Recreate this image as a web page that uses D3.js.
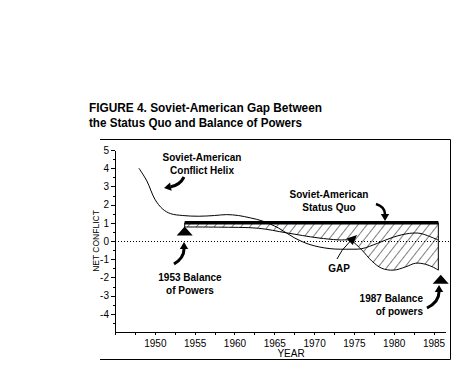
<!DOCTYPE html>
<html>
<head>
<meta charset="utf-8">
<script src="https://cdn.jsdelivr.net/npm/d3@7"></script>
<style>
  body { margin: 0; background: #fff; }
  svg text { font-family: "Liberation Sans", Arial, sans-serif; fill: #000; }
  .ann { font-weight: bold; font-size: 10px; }
  .tick text { font-size: 10px; }
</style>
</head>
<body>
<svg id="chart" width="464" height="374"></svg>
<script>
// data
const helixYears  = [1948, 1949, 1950, 1951, 1952, 1953.5, 1955.5, 1957.5, 1959, 1960.5, 1962, 1963.5, 1965.5, 1967.5, 1969.5, 1972, 1974.5, 1976, 1978, 1980, 1982, 1983.3, 1984.5, 1985.6];
const helixValues = [4.0, 3.3, 2.3, 1.75, 1.5, 1.4, 1.36, 1.4, 1.45, 1.4, 1.27, 1.1, 0.72, 0.18, -0.2, -0.42, -0.45, -0.42, -0.12, 0.22, 0.42, 0.42, 0.25, 0.05];

const bopYears  = [1953.75, 1958, 1963, 1966.5, 1970.5, 1973, 1974.6, 1976, 1977.25, 1978.5, 1980, 1981.5, 1982.75, 1984, 1985, 1985.6];
const bopValues = [0.77, 0.76, 0.7, 0.45, 0.17, 0.06, 0.02, -0.5, -1.1, -1.5, -1.6, -1.42, -1.22, -1.28, -1.45, -1.6];

const statusQuoYears = [1953.75, 1985.6];
const statusQuoValue = 1;

const markerYears  = [1953.75, 1985.9];
const markerValues = [0.55, -2.1];

const xMajor = [1950, 1955, 1960, 1965, 1970, 1975, 1980, 1985];
const xMinor = [1945, 1947.5, 1952.5, 1957.5, 1962.5, 1967.5, 1972.5, 1977.5, 1982.5];
const yMajor = [-4, -3, -2, -1, 0, 1, 2, 3, 4, 5];
const yMinor = [-4.5, -3.5, -2.5, -1.5, -0.5, 0.5, 1.5, 2.5, 3.5, 4.5];

const svg = d3.select('#chart');

const x = d3.scaleLinear().domain([1945, 1986.5]).range([115, 445.5]);
const y = d3.scaleLinear().domain([-5, 5]).range([332, 150]);

// hatch pattern
const defs = svg.append('defs');
defs.append('pattern')
    .attr('id', 'hatch')
    .attr('patternUnits', 'userSpaceOnUse')
    .attr('width', 7).attr('height', 7)
    .attr('patternTransform', 'rotate(38)')
    .append('line')
    .attr('x1', 0).attr('y1', 0).attr('x2', 0).attr('y2', 7)
    .attr('stroke', '#000').attr('stroke-width', 1);

// frame
svg.append('path')
    .attr('d', 'M100,139.5 H450.5 V359.5 H100')
    .attr('fill', 'none').attr('stroke', '#000');

// title
svg.append('text').attr('x', 89).attr('y', 112)
    .attr('font-weight', 'bold').attr('font-size', 12)
    .attr('textLength', 233).attr('lengthAdjust', 'spacingAndGlyphs')
    .text('FIGURE 4. Soviet-American Gap Between');
svg.append('text').attr('x', 89).attr('y', 126.5)
    .attr('font-weight', 'bold').attr('font-size', 12)
    .attr('textLength', 213).attr('lengthAdjust', 'spacingAndGlyphs')
    .text('the Status Quo and Balance of Powers');

// axes
svg.append('g').attr('transform', 'translate(115,0)')
    .call(d3.axisLeft(y).tickValues(yMajor).tickSize(4).tickSizeOuter(0).tickPadding(2).tickFormat(d => String(d)));
svg.append('g').attr('transform', 'translate(115,0)')
    .call(d3.axisLeft(y).tickValues(yMinor).tickSize(2).tickSizeOuter(0).tickFormat(''))
    .select('.domain').remove();

svg.append('g').attr('transform', 'translate(0,332)')
    .call(d3.axisBottom(x).tickValues(xMajor).tickSize(3).tickSizeOuter(0).tickPadding(5).tickFormat(d => String(d)));
svg.append('g').attr('transform', 'translate(0,332)')
    .call(d3.axisBottom(x).tickValues(xMinor).tickSize(3).tickSizeOuter(0).tickFormat(''))
    .select('.domain').remove();

svg.selectAll('.domain, .tick line').attr('stroke', '#000').attr('shape-rendering', 'crispEdges');

svg.append('text').attr('x', 291).attr('y', 357)
    .attr('text-anchor', 'middle').attr('font-size', 10).text('YEAR');
svg.append('text')
    .attr('transform', 'translate(99,241) rotate(-90)')
    .attr('text-anchor', 'middle').attr('font-size', 8.5)
    .text('NET CONFLICT');

// zero line
svg.append('line')
    .attr('x1', x(1945)).attr('x2', 450)
    .attr('y1', y(0) + 0.5).attr('y2', y(0) + 0.5)
    .attr('stroke', '#000').attr('stroke-dasharray', '1,2');

// hatched gap
const bop = bopYears.map((d, i) => [d, bopValues[i]]);
svg.append('path')
    .datum(bop)
    .attr('d', d3.area()
        .x(d => x(d[0]))
        .y0(y(statusQuoValue))
        .y1(d => y(d[1]))
        .curve(d3.curveCatmullRom))
    .attr('fill', 'url(#hatch)')
    .attr('stroke', '#000').attr('stroke-width', 1);

// helix
const helix = helixYears.map((d, i) => [d, helixValues[i]]);
svg.append('path')
    .datum(helix)
    .attr('d', d3.line().x(d => x(d[0])).y(d => y(d[1])).curve(d3.curveCatmullRom))
    .attr('fill', 'none').attr('stroke', '#000').attr('stroke-width', 1);

// status quo
svg.append('line')
    .attr('x1', x(statusQuoYears[0])).attr('x2', x(statusQuoYears[1]))
    .attr('y1', y(statusQuoValue)).attr('y2', y(statusQuoValue))
    .attr('stroke', '#000').attr('stroke-width', 3.5);

// balance markers
svg.selectAll('path.marker')
    .data(markerYears.map((d, i) => [d, markerValues[i]]))
    .enter().append('path')
    .attr('class', 'marker')
    .attr('d', d => {
        const cx = x(d[0]), cy = y(d[1]);
        return `M${cx - 8},${cy + 4.5} L${cx},${cy - 4.5} L${cx + 8},${cy + 4.5} Z`;
    })
    .attr('fill', '#000');

// annotations
const ann = (tx, ty, lines, anchor) => {
    lines.forEach((t, i) => {
        svg.append('text').attr('class', 'ann')
            .attr('x', tx).attr('y', ty + i * 12.5)
            .attr('text-anchor', anchor)
            .text(t);
    });
};
ann(202, 161, ['Soviet-American', 'Conflict Helix'], 'middle');
ann(329, 198, ['Soviet-American', 'Status  Quo'], 'middle');
ann(190, 281, ['1953 Balance', 'of Powers'], 'middle');
ann(423, 302, ['1987 Balance', 'of powers'], 'end');
ann(339, 272, ['GAP'], 'middle');

// curved arrows
const arrow = (x0, y0, cx, cy, x1, y1, w, head, spread) => {
    const ang = Math.atan2(y1 - cy, x1 - cx);
    const bx = x1 - Math.cos(ang) * head, by = y1 - Math.sin(ang) * head;
    svg.append('path')
        .attr('d', `M${x0},${y0} Q${cx},${cy} ${bx},${by}`)
        .attr('fill', 'none').attr('stroke', '#000').attr('stroke-width', w);
    const px = -Math.sin(ang) * head * spread, py = Math.cos(ang) * head * spread;
    svg.append('path')
        .attr('d', `M${x1},${y1} L${bx + px},${by + py} L${bx - px},${by - py} Z`)
        .attr('fill', '#000');
};
arrow(184, 177, 180, 185, 164, 188, 3, 7, 0.6);
arrow(376, 204, 385, 207, 385, 221, 2.5, 7, 0.6);
arrow(174, 264, 184, 258, 184, 242, 3, 7, 0.6);
arrow(427, 308, 439, 302, 439, 285, 3, 7, 0.6);
arrow(337, 259, 341, 250, 357, 235, 1, 10, 0.45);
</script>
</body>
</html>
